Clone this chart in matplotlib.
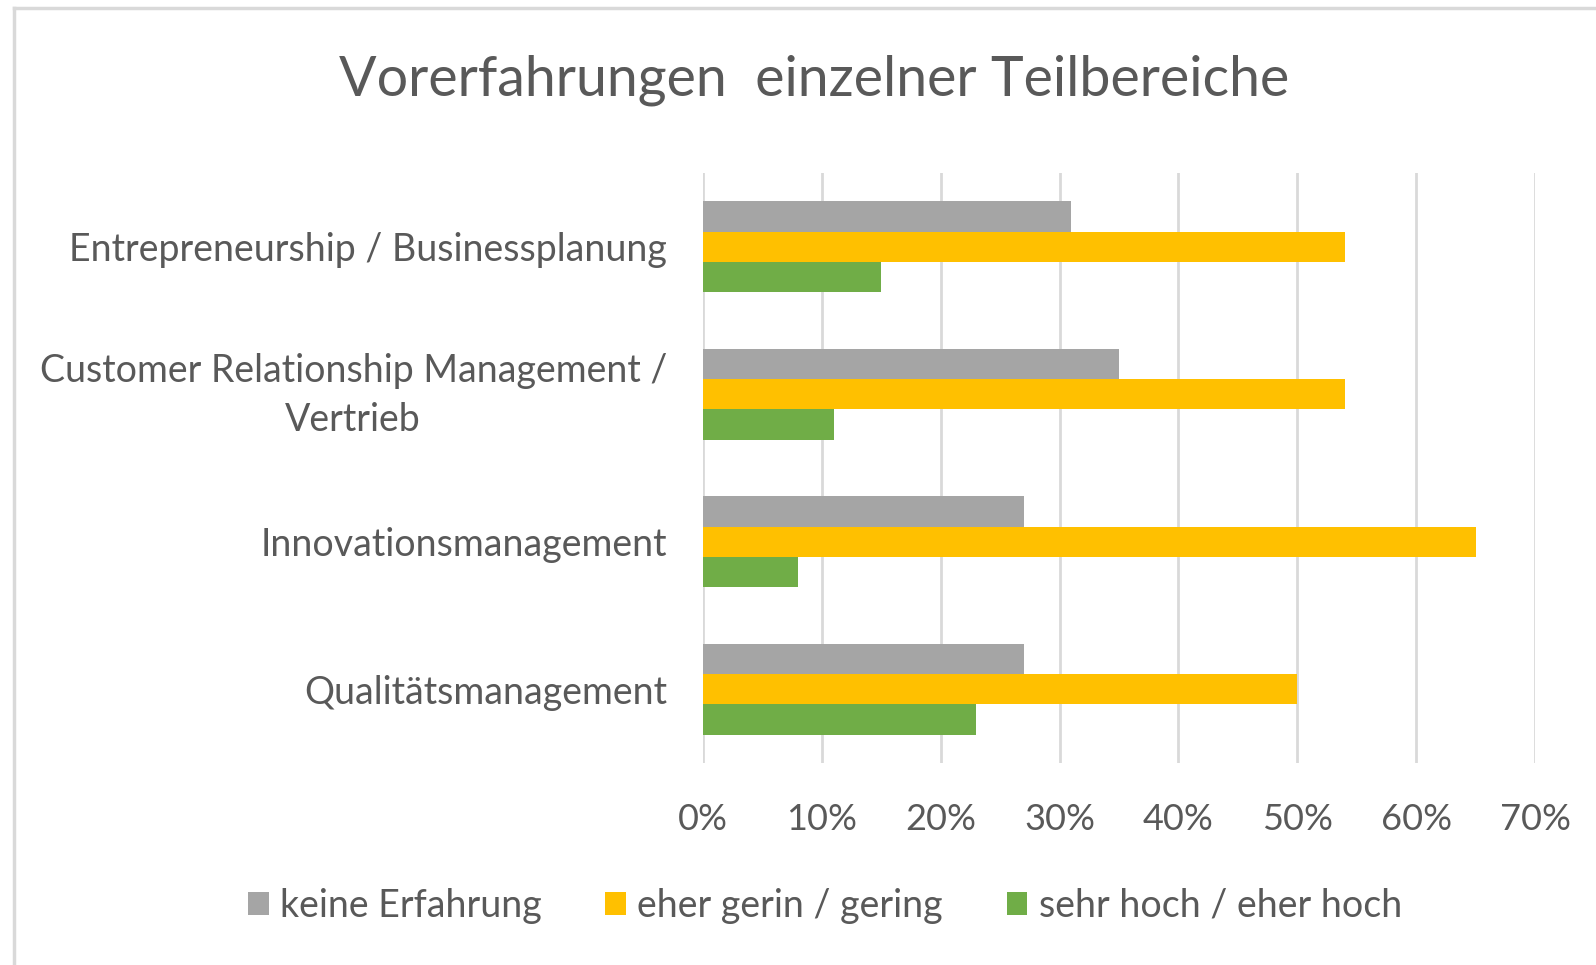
import matplotlib
matplotlib.use("Agg")
import matplotlib.pyplot as plt
import matplotlib.transforms as mtransforms
from matplotlib.lines import Line2D
from matplotlib.patches import Patch
import numpy as np

# data (percent)
categories = [
    "Entrepreneurship / Businessplanung",
    "Customer Relationship Management /\nVertrieb",
    "Innovationsmanagement",
    "Qualitätsmanagement",
]
series_names = ["keine Erfahrung", "eher gerin / gering", "sehr hoch / eher hoch"]
keine = [31, 35, 27, 27]
gering = [54, 54, 65, 50]
hoch = [15, 11, 8, 23]
x_ticks = [0, 10, 20, 30, 40, 50, 60, 70]

colors = ["#A5A5A5", "#FFC000", "#70AD47"]
text_col = "#595959"
grid_col = "#D9D9D9"

plt.rcParams['font.family'] = ['Lato', 'DejaVu Sans']

W, H = 1596, 965
fig = plt.figure(figsize=(W / 100, H / 100), dpi=100)
fig.patch.set_facecolor("white")

# chart frame (left and top edges are visible in the reference)
fig.add_artist(Line2D([14 / W, 14 / W], [0, 1 - 8 / H], transform=fig.transFigure,
                      color=grid_col, lw=2.5))
fig.add_artist(Line2D([14 / W, 1], [1 - 8 / H, 1 - 8 / H], transform=fig.transFigure,
                      color=grid_col, lw=2.5))

ax = fig.add_axes([703 / W, 202 / H, 832 / W, 590 / H])

y = np.arange(len(categories))
bh = 0.205
for off, vals, col in zip([-bh, 0, bh], [keine, gering, hoch], colors):
    ax.barh(y + off, vals, height=bh, color=col, zorder=3)

ax.set_xlim(0, 70)
ax.set_ylim(len(categories) - 0.5, -0.5)
ax.set_xticks(x_ticks)
ax.set_xticklabels([f"{v}%" for v in x_ticks])
ax.set_yticks(y)
ax.set_yticklabels(categories, multialignment="center", linespacing=1.45)
ax.grid(axis="x", color=grid_col, lw=2, zorder=0)
for s in ax.spines.values():
    s.set_visible(False)
ax.tick_params(axis="both", length=0, colors=text_col)
ax.tick_params(axis="x", pad=29, labelsize=26)
ax.tick_params(axis="y", pad=26, labelsize=27)

# two-line label sits a little high in the reference
shift = mtransforms.ScaledTranslation(0, 6 / 72, fig.dpi_scale_trans)
for lab in ax.get_yticklabels():
    if "\n" in lab.get_text():
        lab.set_transform(lab.get_transform() + shift)

fig.text(814 / W, 1 - 80 / H, "Vorerfahrungen  einzelner Teilbereiche",
         ha="center", va="center", fontsize=40, color=text_col)

handles = [Patch(facecolor=c, edgecolor="none") for c in colors]
leg = fig.legend(handles, series_names, loc="center", ncol=3,
                 bbox_to_anchor=(825 / W, 1 - 906 / H), frameon=False,
                 fontsize=27, handlelength=0.55, handleheight=0.55,
                 handletextpad=0.3, columnspacing=1.7)
for t in leg.get_texts():
    t.set_color(text_col)

fig.savefig("out.png", dpi=100)
